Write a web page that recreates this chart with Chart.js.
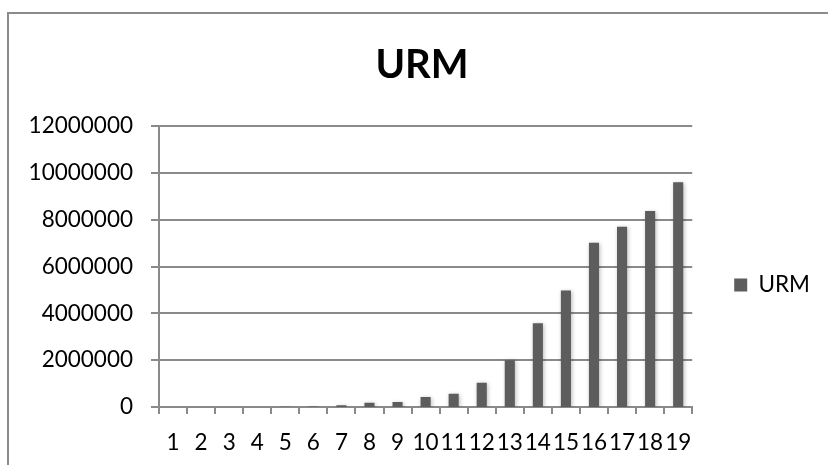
<!DOCTYPE html>
<html>
<head>
<meta charset="utf-8">
<script src="https://cdn.jsdelivr.net/npm/chart.js@4/dist/chart.umd.min.js"></script>
<style>
  html, body { margin: 0; padding: 0; background: #ffffff; overflow: hidden; }
  #wrap { position: relative; width: 828px; height: 465px; }
  #frame {
    position: absolute; left: 7px; top: 12px; width: 900px; height: 600px;
    border: 2px solid #8b8b8b; pointer-events: none;
  }
</style>
</head>
<body>
<div id="wrap">
  <canvas id="chart" width="828" height="465"></canvas>
  <div id="frame"></div>
</div>
<script>
// Categories along the x axis
const categories = ['1','2','3','4','5','6','7','8','9','10','11','12','13','14','15','16','17','18','19'];
// URM series values
const urmValues = [100, 300, 1000, 3000, 8000, 20000, 80000, 180000, 210000, 430000, 570000, 1040000,
                   2000000, 3580000, 4980000, 7010000, 7700000, 8370000, 9600000];
// Y axis ticks
const yTicks = [0, 2000000, 4000000, 6000000, 8000000, 10000000, 12000000];

const seriesName = 'URM';
const barColor = '#5d5d5d';
const lineColor = '#8a8a8a';
const fontFamily = 'Lato, "Open Sans", sans-serif';

// Soft drop shadow around the columns
const barShadow = {
  id: 'barShadow',
  beforeDatasetsDraw(chart) {
    const ctx = chart.ctx;
    ctx.save();
    ctx.shadowColor = 'rgba(0,0,0,0.28)';
    ctx.shadowBlur = 4;
    ctx.shadowOffsetX = 1;
    ctx.shadowOffsetY = 1;
  },
  afterDatasetsDraw(chart) {
    chart.ctx.restore();
  }
};

new Chart(document.getElementById('chart'), {
  type: 'bar',
  data: {
    labels: categories,
    datasets: [{
      label: seriesName,
      data: urmValues,
      backgroundColor: barColor,
      borderWidth: 0,
      inflateAmount: 0,
      barPercentage: 0.36,
      categoryPercentage: 1.0
    }]
  },
  options: {
    responsive: false,
    animation: false,
    devicePixelRatio: 1,
    layout: { padding: { left: 24, right: 8, top: 0, bottom: 0 } },
    plugins: {
      title: {
        display: true,
        text: seriesName,
        color: '#000000',
        font: { family: fontFamily, size: 40, weight: 'bold' },
        padding: { top: 41, bottom: 37 }
      },
      legend: {
        display: true,
        position: 'right',
        fullSize: false,
        align: 'center',
        title: { display: true, text: '', font: { size: 12 }, padding: { top: 11, bottom: 11.6 } },
        labels: {
          color: '#000000',
          font: { family: fontFamily, size: 22.5 },
          boxWidth: 13,
          boxHeight: 13,
          padding: 42
        }
      },
      tooltip: { enabled: false }
    },
    scales: {
      x: {
        offset: true,
        afterFit(scale) { scale.height = 58; },
        grid: {
          display: true,
          offset: true,
          drawOnChartArea: false,
          drawTicks: true,
          tickLength: 7,
          color: lineColor,
          lineWidth: 2
        },
        border: { display: true, color: lineColor, width: 2 },
        ticks: {
          color: '#000000',
          font: { family: fontFamily, size: 22.5 },
          padding: 15,
          maxRotation: 0,
          autoSkip: false
        }
      },
      y: {
        min: 0,
        max: 12000000,
        afterFit(scale) { scale.width = 135; },
        afterBuildTicks(scale) { scale.ticks = yTicks.map(v => ({ value: v })); },
        grid: {
          color: lineColor,
          // the zero line is the x axis border itself
          lineWidth: (c) => (c.tick && c.tick.value === 0 ? 0 : 2),
          tickWidth: 2,
          drawTicks: true,
          tickLength: 8
        },
        border: { display: true, color: lineColor, width: 2 },
        ticks: {
          color: '#000000',
          font: { family: fontFamily, size: 22.5 },
          padding: 18,
          callback: (v) => String(v)
        }
      }
    }
  },
  plugins: [barShadow]
});
</script>
</body>
</html>
